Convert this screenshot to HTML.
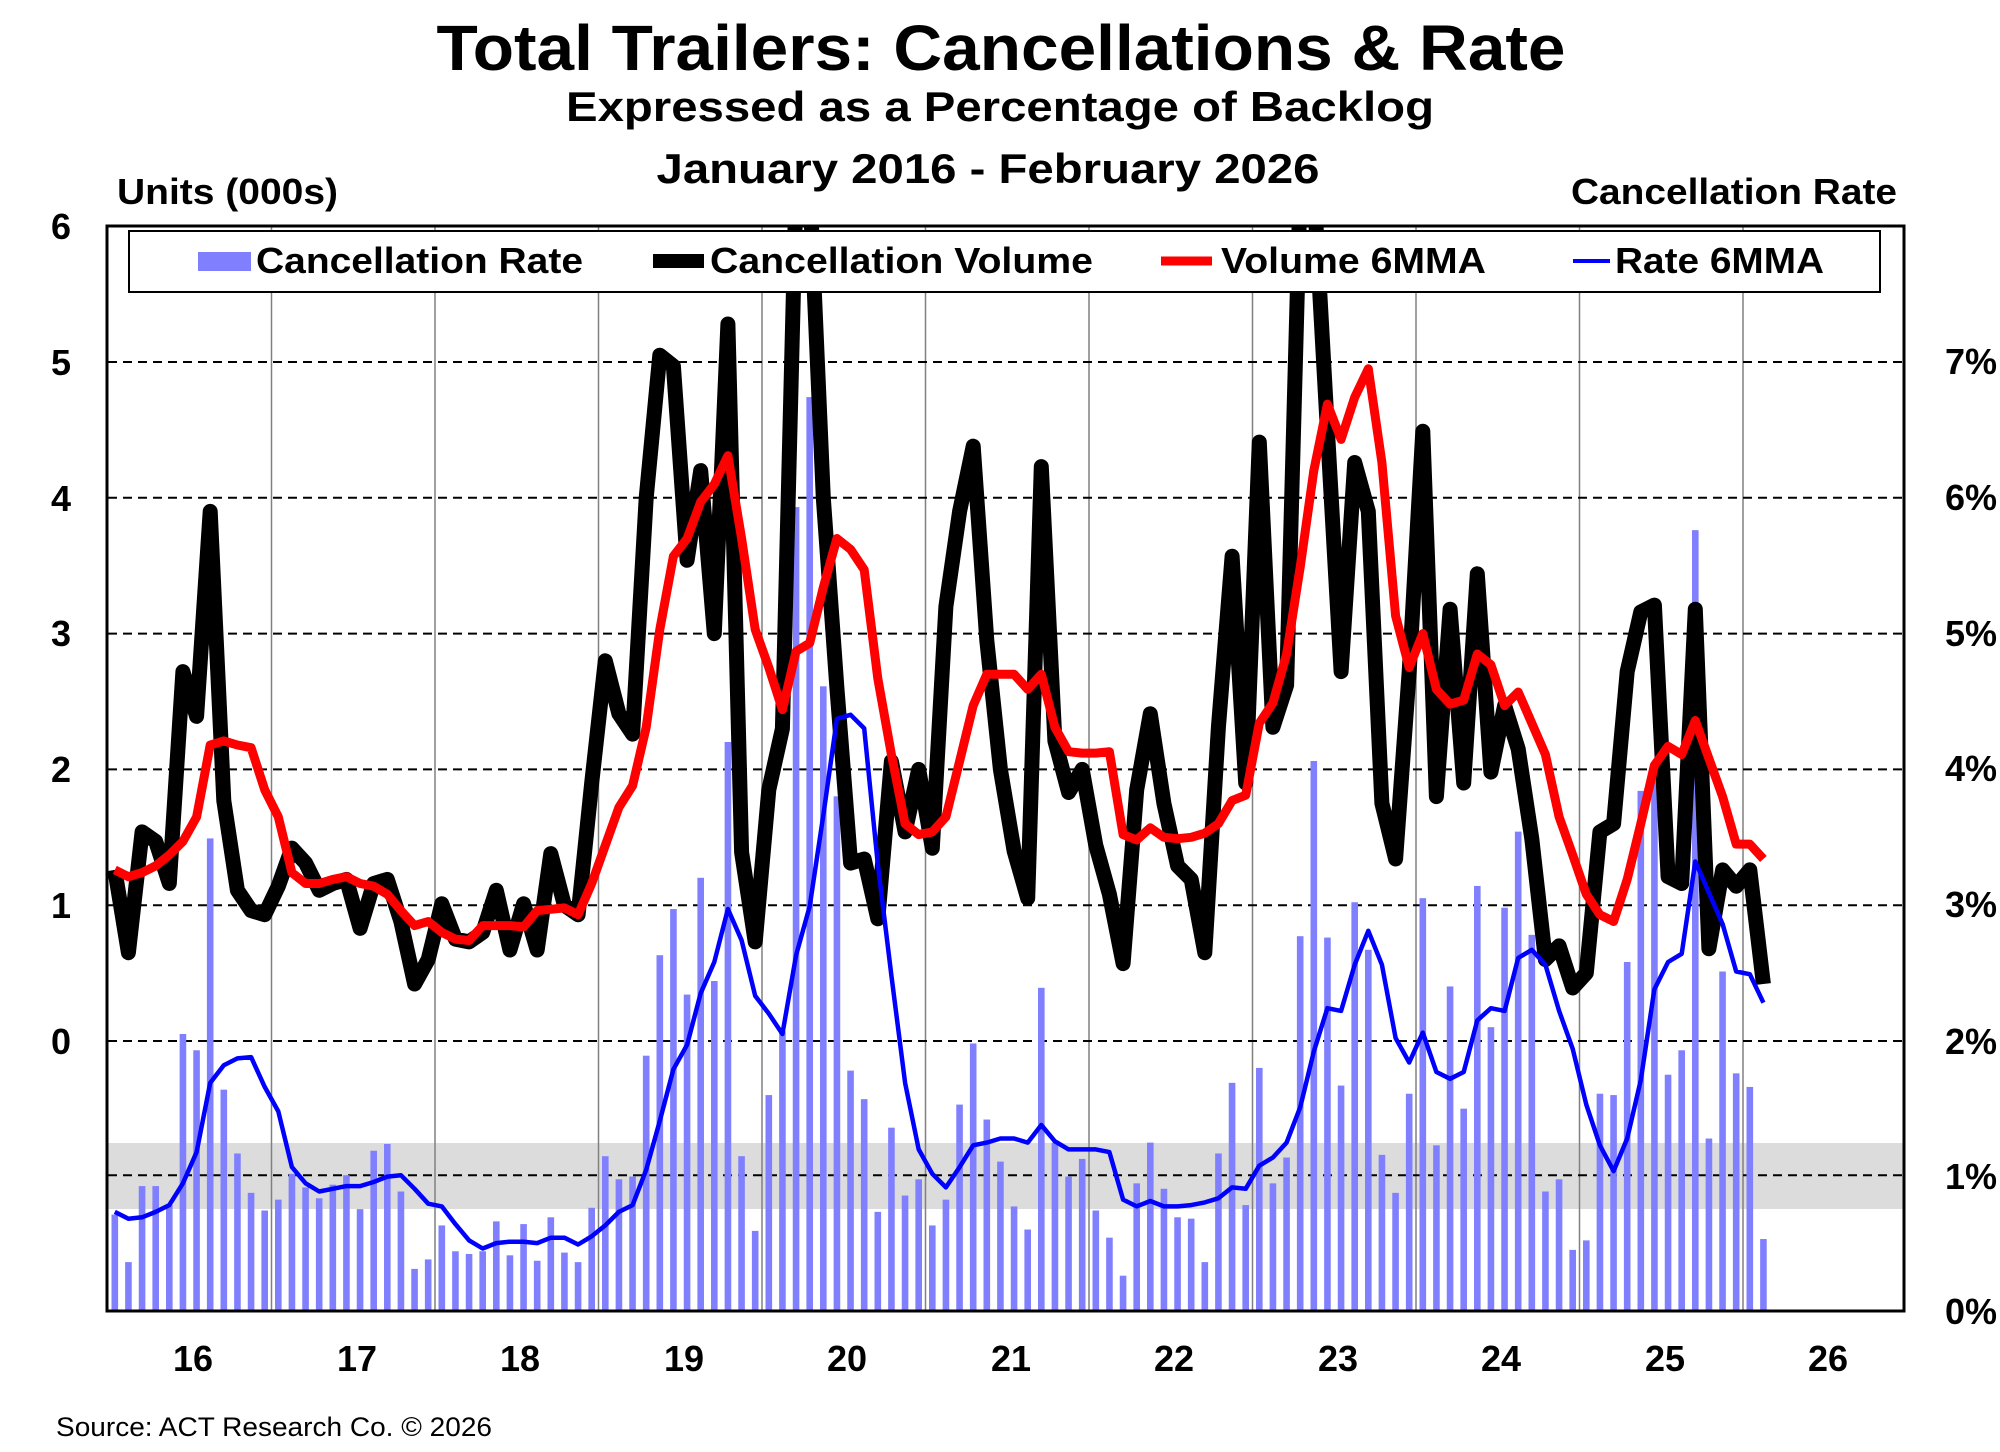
<!DOCTYPE html>
<html><head><meta charset="utf-8">
<style>
html,body{margin:0;padding:0;background:#fff;}
svg{display:block;font-family:"Liberation Sans",Arial,sans-serif;}
</style></head>
<body>
<svg id="c" xmlns="http://www.w3.org/2000/svg" width="2000" height="1452" viewBox="0 0 2000 1452">
<rect x="0" y="0" width="2000" height="1452" fill="#fff"/>
<text x="1001" y="70" text-anchor="middle" font-size="64" font-weight="bold" textLength="1129" lengthAdjust="spacingAndGlyphs">Total Trailers: Cancellations &amp; Rate</text>
<text x="1000" y="121" text-anchor="middle" font-size="42" font-weight="bold" textLength="868" lengthAdjust="spacingAndGlyphs">Expressed as a Percentage of Backlog</text>
<text x="988" y="183" text-anchor="middle" font-size="42" font-weight="bold" textLength="663" lengthAdjust="spacingAndGlyphs">January 2016 - February 2026</text>
<text x="117" y="204" font-size="36" font-weight="bold" textLength="221" lengthAdjust="spacingAndGlyphs">Units (000s)</text>
<text x="1897" y="204" text-anchor="end" font-size="36" font-weight="bold" textLength="326" lengthAdjust="spacingAndGlyphs">Cancellation Rate</text>
<rect x="108" y="1143" width="1796" height="66" fill="#dcdcdc"/>
<g id="grid"></g>
<g id="bars"></g>
<defs><clipPath id="pc"><rect x="108" y="226" width="1796" height="1085"/></clipPath></defs>
<g id="lines" clip-path="url(#pc)"></g>
<rect x="107" y="226" width="1797" height="1085" fill="none" stroke="#000" stroke-width="3"/>
<g id="legend">
<rect x="129" y="231" width="1751" height="61" fill="#fff" stroke="#000" stroke-width="2"/>
<rect x="198" y="252" width="53" height="19" fill="#8080ff"/>
<text x="256" y="273" font-size="36" font-weight="bold" textLength="327" lengthAdjust="spacingAndGlyphs">Cancellation Rate</text>
<line x1="653" y1="261" x2="704" y2="261" stroke="#000" stroke-width="14"/>
<text x="710" y="273" font-size="36" font-weight="bold" textLength="383" lengthAdjust="spacingAndGlyphs">Cancellation Volume</text>
<line x1="1161" y1="261" x2="1212" y2="261" stroke="#f00" stroke-width="9"/>
<text x="1221" y="273" font-size="36" font-weight="bold" textLength="265" lengthAdjust="spacingAndGlyphs">Volume 6MMA</text>
<line x1="1573" y1="261" x2="1610" y2="261" stroke="#00f" stroke-width="4"/>
<text x="1615" y="273" font-size="36" font-weight="bold" textLength="209" lengthAdjust="spacingAndGlyphs">Rate 6MMA</text>
</g>
<g font-size="36" font-weight="bold" text-anchor="middle">
<text x="61" y="239">6</text><text x="61" y="375">5</text><text x="61" y="511">4</text>
<text x="61" y="646">3</text><text x="61" y="782">2</text><text x="61" y="918">1</text><text x="61" y="1054">0</text>
</g>
<g font-size="36" font-weight="bold">
<text x="1945" y="374">7%</text><text x="1945" y="510">6%</text><text x="1945" y="646">5%</text>
<text x="1945" y="781">4%</text><text x="1945" y="917">3%</text><text x="1945" y="1054">2%</text>
<text x="1945" y="1189">1%</text><text x="1945" y="1324">0%</text>
</g>
<g font-size="36" font-weight="bold" text-anchor="middle">
<text x="193" y="1371">16</text><text x="357" y="1371">17</text><text x="520" y="1371">18</text>
<text x="684" y="1371">19</text><text x="847" y="1371">20</text><text x="1011" y="1371">21</text>
<text x="1174" y="1371">22</text><text x="1338" y="1371">23</text><text x="1501" y="1371">24</text>
<text x="1665" y="1371">25</text><text x="1828" y="1371">26</text>
</g>
<text x="56" y="1436" font-size="27" textLength="436" lengthAdjust="spacingAndGlyphs">Source: ACT Research Co. © 2026</text>
</svg>
<script>
(function(){
var NS="http://www.w3.org/2000/svg";
function el(p,t,a){var e=document.createElementNS(NS,t);for(var k in a)e.setAttribute(k,a[k]);p.appendChild(e);return e;}
function X(m){return 108+(m+0.5)*13.625;}
function YU(u){return 1041-u*135.8;}
function YR(r){return 1311-r*135.8;}
var black=[1.26,0.65,1.54,1.47,1.16,2.72,2.39,3.9,1.77,1.11,0.96,0.93,
1.14,1.42,1.31,1.11,1.16,1.19,0.83,1.16,1.19,0.88,0.42,0.6,
1.01,0.75,0.73,0.8,1.11,0.67,1.01,0.67,1.38,1.0,0.93,1.9,
2.8,2.41,2.26,4.0,5.05,4.97,3.54,4.2,3.0,5.28,1.39,0.73,
1.85,2.3,6.3,6.3,4.0,2.6,1.31,1.34,0.9,2.06,1.54,2.0,
1.42,3.2,3.9,4.38,2.95,2.0,1.4,1.05,4.23,2.21,1.83,2.0,
1.44,1.08,0.57,1.85,2.41,1.75,1.29,1.19,0.65,2.31,3.57,1.9,
4.41,2.31,2.62,6.3,6.3,4.5,2.72,4.26,3.9,1.75,1.34,2.72,
4.49,1.8,3.18,1.9,3.44,1.98,2.47,2.15,1.49,0.6,0.7,0.39,
0.5,1.54,1.6,2.72,3.16,3.21,1.21,1.16,3.18,0.68,1.26,1.14,1.26,0.42];
var red=[1.26,1.21,1.24,1.29,1.37,1.47,1.65,2.18,2.21,2.18,2.16,1.85,
1.65,1.24,1.16,1.16,1.19,1.21,1.16,1.14,1.08,0.96,0.85,0.88,
0.8,0.75,0.74,0.85,0.85,0.85,0.84,0.96,0.97,0.98,0.93,1.16,
1.44,1.72,1.88,2.31,3.03,3.57,3.7,3.97,4.1,4.31,3.7,3.03,
2.75,2.44,2.87,2.93,3.34,3.7,3.62,3.47,2.67,2.11,1.6,1.52,
1.54,1.65,2.06,2.47,2.7,2.7,2.7,2.59,2.7,2.31,2.13,2.12,
2.12,2.13,1.52,1.48,1.57,1.5,1.49,1.5,1.53,1.6,1.77,1.81,
2.34,2.49,2.85,3.49,4.2,4.69,4.43,4.74,4.95,4.26,3.13,2.75,
3.0,2.59,2.48,2.51,2.85,2.77,2.47,2.57,2.34,2.11,1.65,1.37,
1.08,0.93,0.88,1.19,1.6,2.03,2.17,2.11,2.36,2.08,1.8,1.45,1.45,1.34];
var blue=[0.73,0.68,0.69,0.73,0.78,0.94,1.17,1.68,1.81,1.86,1.87,1.65,
1.47,1.06,0.94,0.88,0.9,0.92,0.92,0.95,0.99,1.0,0.9,0.79,
0.77,0.64,0.52,0.46,0.5,0.51,0.51,0.5,0.54,0.54,0.49,0.55,
0.63,0.73,0.78,1.04,1.4,1.78,1.96,2.34,2.57,2.96,2.73,2.32,
2.19,2.04,2.62,2.98,3.65,4.36,4.39,4.29,3.29,2.47,1.68,1.19,
1.01,0.91,1.06,1.22,1.24,1.27,1.27,1.24,1.37,1.25,1.19,1.19,
1.19,1.17,0.82,0.77,0.81,0.77,0.77,0.78,0.8,0.83,0.91,0.9,
1.07,1.13,1.24,1.5,1.91,2.23,2.21,2.55,2.8,2.55,2.01,1.83,
2.05,1.76,1.71,1.76,2.14,2.23,2.21,2.6,2.66,2.55,2.21,1.93,
1.52,1.22,1.03,1.27,1.7,2.37,2.57,2.63,3.31,3.08,2.85,2.5,2.48,2.27];
var bars=[0.71,0.36,0.92,0.92,0.78,2.04,1.92,3.48,1.63,1.16,0.87,0.74,
0.82,1.01,0.91,0.83,0.93,1.0,0.75,1.18,1.23,0.88,0.31,0.38,
0.63,0.44,0.42,0.44,0.66,0.41,0.64,0.37,0.69,0.43,0.36,0.76,
1.14,0.97,0.99,1.88,2.62,2.96,2.33,3.19,2.43,4.19,1.14,0.59,
1.59,2.06,5.92,6.73,4.6,3.79,1.77,1.56,0.73,1.35,0.85,0.97,
0.63,0.82,1.52,1.97,1.41,1.1,0.77,0.6,2.38,1.24,0.99,1.12,
0.74,0.54,0.26,0.94,1.24,0.9,0.69,0.68,0.36,1.16,1.68,0.78,
1.79,0.94,1.13,2.76,4.05,2.75,1.66,3.01,2.66,1.15,0.87,1.6,
3.04,1.22,2.39,1.49,3.13,2.09,2.97,3.53,2.77,0.88,0.97,0.45,
0.52,1.6,1.59,2.57,3.83,3.9,1.74,1.92,5.75,1.27,2.5,1.75,1.65,0.53];
var g=document.getElementById('grid');
for(var k=1;k<=10;k++){var x=108+k*163.5;el(g,'line',{x1:x,y1:226,x2:x,y2:1311,stroke:'#808080','stroke-width':1.5});}
var ys=[YU(5),YU(4),YU(3),YU(2),YU(1),YU(0),YR(1)];
ys.forEach(function(y){el(g,'line',{x1:108,y1:y,x2:1904,y2:y,stroke:'#000','stroke-width':2,'stroke-dasharray':'9,6'});});
var b=document.getElementById('bars');
bars.forEach(function(v,i){var y=YR(v);el(b,'rect',{x:X(i)-3.3,y:y,width:6.6,height:1311-y,fill:'#8080ff'});});
function pts(a,f){return a.map(function(v,i){return X(i).toFixed(1)+','+f(v).toFixed(1);}).join(' ');}
var L=document.getElementById('lines');
el(L,'polyline',{points:pts(black,YU),fill:'none',stroke:'#000','stroke-width':15,'stroke-linejoin':'round'});
el(L,'polyline',{points:pts(red,YU),fill:'none',stroke:'#f00','stroke-width':9,'stroke-linejoin':'round'});
el(L,'polyline',{points:pts(blue,YR),fill:'none',stroke:'#00f','stroke-width':4.5,'stroke-linejoin':'round'});
var s=document.getElementById('c');s.appendChild(document.getElementById('legend'));
})();
</script>
</body></html>
